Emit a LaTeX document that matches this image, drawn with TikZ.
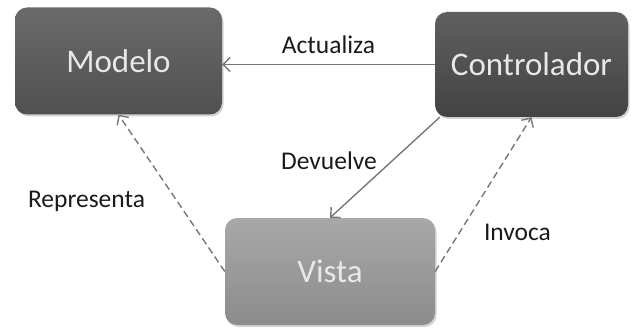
\documentclass[tikz,border=0pt]{standalone}
\usepackage{fontspec}
\setmainfont{Carlito}
\usetikzlibrary{shadows,arrows.meta}
\definecolor{boxdark}{HTML}{505050}
\definecolor{boxdarker}{HTML}{434343}
\definecolor{boxlighttop}{HTML}{A8A8A8}
\definecolor{boxlightbot}{HTML}{8C8C8C}
\definecolor{linegray}{HTML}{777777}
\definecolor{labeltext}{HTML}{1A1A1A}
\definecolor{boxtext}{HTML}{E8E8E8}
\begin{document}
\begin{tikzpicture}[x=1pt,y=-1pt,
  box/.style={rounded corners=12pt, minimum width=#1, inner sep=0pt,
    font=\fontsize{33}{36}\selectfont, text=boxtext,
    drop shadow={shadow xshift=1.5pt, shadow yshift=-2pt, opacity=0.35}},
  lbl/.style={font=\fontsize{25.5}{28}\selectfont, text=labeltext},
  conn/.style={draw=linegray, line width=1.4pt, -{Straight Barb[length=7pt,width=14pt]}},
  dconn/.style={conn, dash pattern=on 7pt off 4pt}
]
\useasboundingbox (0,0) rectangle (633,329);
\node[box=207pt, minimum height=107pt, top color=boxdark!85!white, bottom color=boxdark] (M) at (118.5,61) {Modelo};
\node[box=193pt, minimum height=105pt, top color=boxdarker!85!white, bottom color=boxdarker] (C) at (531.5,64.5) {Controlador};
\node[box=210pt, minimum height=107pt, top color=boxlighttop, bottom color=boxlightbot] (V) at (330,271.5) {Vista};

\draw[conn] (C.west) -- (C.west -| M.east);
\draw[conn] ([xshift=5pt]C.south west) -- (V.north);
\draw[dconn] (V.west) -- (M.south);
\draw[dconn] (V.east) -- (C.south);

\node[lbl] (la) at (328.5,45) {Actualiza};
\node[lbl] (ld) at (329,161) {Devuelve};
\node[lbl] (lr) at (86.5,201) {Representa};
\node[lbl] (li) at (517.5,232) {Invoca};
\end{tikzpicture}
\end{document}
